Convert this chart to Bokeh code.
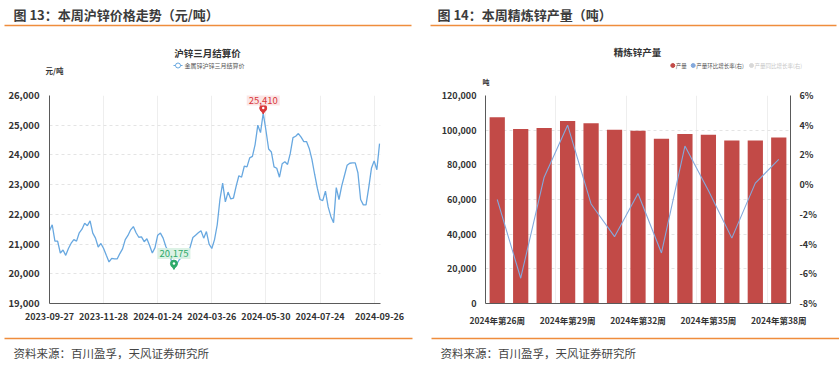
from bokeh.plotting import figure
from bokeh.models import (Range1d, LinearAxis, FixedTicker, NumeralTickFormatter,
                          PrintfTickFormatter, Label)
from bokeh.layouts import column, row
from bokeh.embed import file_html
from bokeh.resources import INLINE
from bokeh.core.properties import value

FONT = "Noto Sans CJK SC"
ORANGE = "#ef8d3c"
BLUE = "#68a8e0"
RED_MARK = "#d9383a"
GREEN_MARK = "#2eaa6a"
BAR = "#c24a47"
LBLUE = "#84a9dc"

# ---------------- data ----------------
header_titles = ["图 13：本周沪锌价格走势（元/吨）", "图 14：本周精炼锌产量（吨）"]
source_text = "资料来源：百川盈孚，天风证券研究所"

price_title = "沪锌三月结算价"
price_series_name = "金属锌沪锌三月结算价"
price_unit = "元/吨"
price_tick_days = [0, 40, 80, 120, 160, 200, 244]
price_tick_labels = ["2023-09-27", "2023-11-28", "2024-01-24", "2024-03-26",
                     "2024-05-30", "2024-07-24", "2024-09-26"]
# SHFE zinc 3rd-month settlement price, sampled every second trading day
zinc_price = [21450, 21650, 21100, 21100, 20700, 20800, 20620, 20850, 21030, 21150,
              21100, 21380, 21500, 21700, 21620, 21780, 21370, 21200, 20900, 21020,
              20850, 20620, 20400, 20520, 20500, 20500, 20680, 20840, 21150, 21290,
              21480, 21590, 21380, 21230, 21240, 21080, 21180, 20950, 20700, 20880,
              21300, 21370, 21200, 20920, 20730, 20450, 20175, 20320, 20480, 20560,
              20580, 20620, 20900, 21220, 21300, 21380, 21450, 21200, 21420, 21000,
              20850, 21150, 21650, 22500, 23050, 22420, 22750, 22520, 22550, 22950,
              23300, 23250, 23620, 23600, 23900, 23950, 24350, 25000, 24750, 25410,
              24830, 24200, 24100, 23600, 23550, 23250, 23700, 23770, 23680, 24050,
              24580, 24630, 24720, 24600, 24450, 24450, 24220, 23850, 23350, 22880,
              22500, 22460, 22780, 22250, 21930, 21720, 22900, 22500, 22950, 23300,
              23650, 23720, 23730, 23730, 23400, 22500, 22320, 22320, 22900, 23550,
              23800, 23500, 24380]
price_days = list(range(0, 2 * len(zinc_price), 2))

prod_title = "精炼锌产量"
prod_unit = "吨"
prod_legend = ["产量", "产量环比增长率(右)", "产量同比增长率(右)"]
weeks = ["2024年第26周", "2024年第27周", "2024年第28周", "2024年第29周", "2024年第30周",
         "2024年第31周", "2024年第32周", "2024年第33周", "2024年第34周", "2024年第35周",
         "2024年第36周", "2024年第37周", "2024年第38周"]
output_t = [107500, 100700, 101300, 105300, 104000, 100300, 99700,
            95100, 97800, 97400, 94000, 94000, 95700]
mom_pct = [-1.0, -6.3, 0.5, 4.0, -1.3, -3.5, -0.6, -4.6, 2.6, -0.4, -3.6, 0.1, 1.7]

W = 839
WL, WR = 420, 419


def canvas(w, h):
    f = figure(width=w, height=h, x_range=Range1d(0, w), y_range=Range1d(h, 0),
               x_axis_type=None, y_axis_type=None, output_backend="svg",
               toolbar_location=None, min_border=0)
    f.grid.visible = False
    f.outline_line_color = None
    f.background_fill_color = "white"
    f.border_fill_color = "white"
    return f


def bare(fig):
    fig.outline_line_color = None
    fig.border_fill_color = "white"
    fig.background_fill_color = "white"
    return fig


def style_axis(ax, size="9.5px"):
    ax.axis_line_color = "#5a5a5a"
    ax.major_tick_line_color = None
    ax.minor_tick_line_color = None
    ax.major_label_text_font = FONT
    ax.major_label_text_font_size = size
    ax.major_label_text_font_style = "bold"
    ax.major_label_text_color = "#333333"


def txt(fig, x, y, t, size, color="#333333", style="normal", align="left"):
    fig.text(x=[x], y=[y], text=[t], text_font=value(FONT), text_font_size=size,
             text_font_style=style, text_color=color, text_align=align,
             text_baseline="middle")


# ---------------- header ----------------
hdr = canvas(W, 30)
hdr.text(x=[13, 437], y=[13.5, 13.5], text=header_titles, text_font=value(FONT),
         text_font_size="13px", text_font_style="bold", text_color="#3c3c3c",
         text_baseline="middle")
hdr.segment(x0=[4, 430], y0=[25, 25], x1=[411, 836], y1=[25, 25],
            line_color=ORANGE, line_width=1.5)

# ---------------- strips with chart titles / legends ----------------
s1 = canvas(WL, 57)
txt(s1, 207, 22, price_title, "9.5px", style="bold", align="center")
s1.segment(x0=[173], y0=[35], x1=[182], y1=[35], line_color=BLUE, line_width=1.2)
s1.scatter(x=[177.5], y=[35], marker="circle", size=5, fill_color="white",
           line_color=BLUE, line_width=1)
txt(s1, 184, 35, price_series_name, "6px", color="#555555")
txt(s1, 54, 39.5, price_unit, "7.5px", style="bold", align="center")

s2 = canvas(WR, 57)
txt(s2, 217, 21, prod_title, "9.5px", style="bold", align="center")
leg_x = [252.3, 272.7, 331]
leg_c = [BAR, LBLUE, "#d8d8d8"]
leg_tc = ["#555555", "#555555", "#c8c8c8"]
for lx, c, tc, t in zip(leg_x, leg_c, leg_tc, prod_legend):
    s2.scatter(x=[lx], y=[35], marker="circle", size=4, fill_color=c, line_color=c)
    txt(s2, lx + 3, 35, t, "5.5px", color=tc)
txt(s2, 65.5, 51.5, prod_unit, "7px", style="bold", align="center")

# ---------------- left chart ----------------
L_LEFT, L_RIGHT, L_TOP, L_BOT = 49, 40, 8, 26
CH = 243
L_H = CH - L_TOP - L_BOT
p1 = bare(figure(width=WL, height=CH, x_range=Range1d(0, 244.7),
                 y_range=Range1d(19000, 26000), output_backend="svg",
                 toolbar_location=None, min_border_left=L_LEFT, min_border_right=L_RIGHT,
                 min_border_top=L_TOP, min_border_bottom=L_BOT))
p1.line(price_days, zinc_price, line_color=BLUE, line_width=1.3)

p1.yaxis.ticker = FixedTicker(ticks=list(range(19000, 26001, 1000)))
p1.yaxis.formatter = NumeralTickFormatter(format="0,0")
p1.xaxis.ticker = FixedTicker(ticks=price_tick_days)
p1.xaxis.major_label_overrides = dict(zip(price_tick_days, price_tick_labels))
for ax in p1.axis:
    style_axis(ax)
p1.yaxis.major_label_standoff = 4
p1.xaxis.major_label_standoff = 3
p1.xaxis.major_label_text_font_size = "9px"
p1.ygrid.grid_line_color = "#e4e4e4"
p1.ygrid.grid_line_dash = "3 3"
p1.xgrid.ticker = FixedTicker(ticks=[40, 80, 120, 160, 200, 240])
p1.xgrid.grid_line_color = "#eeeeee"

du = (26000 - 19000) / L_H  # data units per pixel
for fn, color, bg, off in [(max, RED_MARK, "#fbe2e2", 13), (min, GREEN_MARK, "#d8f1e2", 15)]:
    v = fn(zinc_price)
    xi = price_days[zinc_price.index(v)]
    p1.scatter(x=[xi], y=[v + 2 * du], marker="inverted_triangle", size=5,
               fill_color=color, line_color=color)
    p1.scatter(x=[xi], y=[v + 5 * du], marker="circle", size=7,
               fill_color=color, line_color=color)
    p1.scatter(x=[xi], y=[v + 5 * du], marker="circle", size=2.5,
               fill_color="white", line_color=None)
    p1.add_layout(Label(x=xi, y=v, y_offset=off, text=f"{v:,}", text_font=FONT,
                        text_font_size="9.5px", text_color=color, text_align="center",
                        text_baseline="middle", background_fill_color=bg,
                        background_fill_alpha=0.9, padding=2))

# ---------------- right chart ----------------
R_LEFT, R_RIGHT, R_TOP, R_BOT = 65, 49, 6, 27
idx = list(range(len(weeks)))
p2 = bare(figure(width=WR, height=CH, x_range=Range1d(-0.5, len(weeks) - 0.5),
                 y_range=Range1d(0, 120000), output_backend="svg",
                 toolbar_location=None, min_border_left=R_LEFT, min_border_right=R_RIGHT,
                 min_border_top=R_TOP, min_border_bottom=R_BOT))
p2.extra_y_ranges = {"pct": Range1d(-8, 6)}
p2.vbar(x=idx, top=output_t, width=0.65, fill_color=BAR, line_color=None)
p2.line(idx, mom_pct, y_range_name="pct", line_color=LBLUE, line_width=1.1)

rax = LinearAxis(y_range_name="pct", ticker=FixedTicker(ticks=list(range(-8, 7, 2))),
                 formatter=PrintfTickFormatter(format="%d%%"))
p2.add_layout(rax, "right")
p2.yaxis[0].ticker = FixedTicker(ticks=list(range(0, 120001, 20000)))
p2.yaxis[0].formatter = NumeralTickFormatter(format="0,0")
tick_idx = idx[::3]
p2.xaxis.ticker = FixedTicker(ticks=tick_idx)
p2.xaxis.major_label_overrides = {i: weeks[i] for i in tick_idx}
for ax in p2.axis:
    style_axis(ax, "9px")
p2.xaxis.major_label_text_font_size = "8.5px"
p2.xaxis.major_label_standoff = 4
for ax in p2.yaxis:
    ax.major_label_standoff = 3
p2.ygrid.grid_line_color = "#e4e4e4"
p2.ygrid.grid_line_dash = "3 3"
p2.xgrid.ticker = FixedTicker(ticks=[2.5, 5.5, 8.5, 11.5])
p2.xgrid.grid_line_color = "#eeeeee"

# ---------------- footer ----------------
ftr = canvas(W, 39)
ftr.segment(x0=[4, 431], y0=[8, 8], x1=[412, 839], y1=[8, 8],
            line_color=ORANGE, line_width=1.5)
ftr.text(x=[13, 440], y=[22, 22], text=[source_text, source_text], text_font=value(FONT),
         text_font_size="11.5px", text_color="#444444", text_baseline="middle")

layout = column(hdr, row(s1, s2), row(p1, p2), ftr)
open("out.html", "w").write(file_html(layout, INLINE))
